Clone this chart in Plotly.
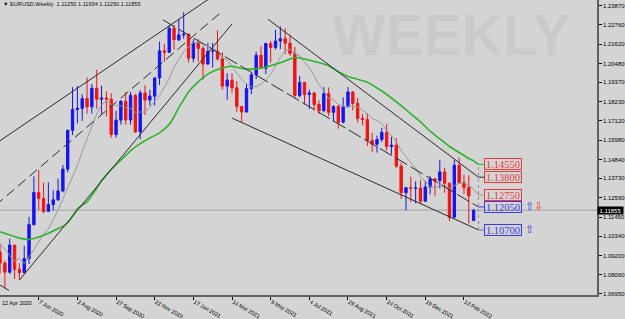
import plotly.graph_objects as go
import pandas as pd

# ---------------- data ----------------
week_start = "2020-04-12"
n_weeks = 99
dates = pd.date_range(week_start, periods=n_weeks, freq="7D")

opens = [1.0940,1.0875,1.0822,1.0981,1.0839,1.0819,1.0902,1.1101,1.1290,1.1255,
         1.1179,1.1219,1.1247,1.1299,1.1427,1.1655,1.1778,1.1784,1.1842,1.1793,
         1.1902,1.1838,1.1845,1.1838,1.1631,1.1715,1.1826,1.1716,1.1860,1.1646,
         1.1875,1.1833,1.1856,1.1963,1.2122,1.2114,1.2255,1.2187,1.2216,1.2220,
         1.2079,1.2169,1.2136,1.2045,1.2119,1.2120,1.2075,1.1915,1.1950,1.1905,
         1.1795,1.1763,1.1900,1.1982,1.2096,1.2020,1.2165,1.2142,1.2180,1.2193,
         1.2167,1.2107,1.1860,1.1936,1.1866,1.1875,1.1807,1.1771,1.1870,1.1761,
         1.1795,1.1703,1.1793,1.1880,1.1813,1.1725,1.1719,1.1596,1.1574,1.1601,
         1.1643,1.1560,1.1568,1.1445,1.1289,1.1318,1.1315,1.1316,1.1239,1.1322,
         1.1370,1.1360,1.1411,1.1344,1.1145,1.1450,1.1349,1.1320,1.1125]
highs = [1.0990,1.0890,1.1019,1.0982,1.0875,1.0976,1.1147,1.1384,1.1422,1.1348,
         1.1349,1.1302,1.1371,1.1452,1.1659,1.1909,1.1916,1.1867,1.1966,1.1927,
         1.2011,1.1917,1.1883,1.1873,1.1771,1.1831,1.1880,1.1880,1.1870,1.1891,
         1.1920,1.1893,1.1965,1.2177,1.2163,1.2273,1.2272,1.2310,1.2349,1.2223,
         1.2190,1.2189,1.2150,1.2169,1.2169,1.2243,1.2114,1.1990,1.1990,1.1945,
         1.1797,1.1927,1.1994,1.2117,1.2150,1.2170,1.2181,1.2245,1.2266,1.2254,
         1.2218,1.2145,1.1975,1.1940,1.1895,1.1880,1.1831,1.1909,1.1908,1.1803,
         1.1805,1.1849,1.1909,1.1886,1.1845,1.1752,1.1755,1.1640,1.1624,1.1669,
         1.1692,1.1617,1.1609,1.1464,1.1320,1.1383,1.1355,1.1362,1.1360,1.1386,
         1.1376,1.1482,1.1436,1.1348,1.1483,1.1495,1.1395,1.1391,1.11934]
lows = [1.0812,1.0727,1.0812,1.0782,1.0775,1.0818,1.0870,1.1096,1.1186,1.1168,
        1.1179,1.1184,1.1240,1.1291,1.1409,1.1627,1.1696,1.1711,1.1753,1.1753,
        1.1781,1.1752,1.1737,1.1612,1.1613,1.1689,1.1688,1.1689,1.1640,1.1603,
        1.1745,1.1800,1.1800,1.1922,1.2058,1.2110,1.2130,1.2180,1.2193,1.2053,
        1.2055,1.2057,1.1952,1.2040,1.2023,1.2065,1.1894,1.1835,1.1873,1.1762,
        1.1704,1.1760,1.1868,1.1956,1.2018,1.1986,1.2052,1.2130,1.2133,1.2104,
        1.2092,1.1847,1.1848,1.1807,1.1781,1.1772,1.1752,1.1762,1.1739,1.1705,
        1.1664,1.1696,1.1790,1.1772,1.1701,1.1683,1.1563,1.1529,1.1524,1.1586,
        1.1535,1.1513,1.1432,1.1251,1.1186,1.1234,1.1226,1.1222,1.1236,1.1279,
        1.1272,1.1313,1.1288,1.1121,1.1140,1.1340,1.1280,1.1106,1.11250]
closes = [1.0875,1.0822,1.0981,1.0839,1.0819,1.0902,1.1101,1.1290,1.1255,1.1179,
          1.1219,1.1247,1.1299,1.1427,1.1655,1.1778,1.1784,1.1842,1.1793,1.1902,
          1.1838,1.1845,1.1838,1.1631,1.1715,1.1826,1.1716,1.1860,1.1646,1.1875,
          1.1833,1.1856,1.1963,1.2122,1.2114,1.2255,1.2187,1.2216,1.2220,1.2079,
          1.2169,1.2136,1.2045,1.2119,1.2120,1.2075,1.1915,1.1950,1.1905,1.1795,
          1.1763,1.1900,1.1982,1.2096,1.2020,1.2165,1.2142,1.2180,1.2193,1.2167,
          1.2107,1.1860,1.1936,1.1866,1.1875,1.1807,1.1771,1.1870,1.1761,1.1795,
          1.1703,1.1793,1.1880,1.1813,1.1725,1.1719,1.1596,1.1574,1.1601,1.1643,
          1.1560,1.1568,1.1445,1.1289,1.1318,1.1315,1.1316,1.1239,1.1322,1.1370,
          1.1360,1.1411,1.1344,1.1145,1.1450,1.1349,1.1320,1.1270,1.11855]

# grey (fast) moving average, read per week
ma_fast = [1.0983,1.0958,1.0920,1.0887,1.0903,1.0873,1.0910,1.0954,1.1001,1.1046,
           1.1076,1.1127,1.1187,1.1252,1.1321,1.1382,1.1449,1.1531,1.1603,1.1685,
           1.1752,1.1805,1.1828,1.1809,1.1801,1.1799,1.1789,1.1784,1.1760,1.1763,
           1.1763,1.1791,1.1822,1.1859,1.1909,1.1958,1.2026,1.2068,1.2117,1.2145,
           1.2170,1.2172,1.2163,1.2146,1.2138,1.2120,1.2082,1.2066,1.2033,1.1991,
           1.1955,1.1928,1.1911,1.1913,1.1926,1.1953,1.1983,1.2031,1.2085,1.2118,
           1.2134,1.2104,1.2094,1.2056,1.2023,1.1976,1.1924,1.1887,1.1843,1.1835,
           1.1806,1.1797,1.1797,1.1798,1.1793,1.1774,1.1753,1.1725,1.1713,1.1694,
           1.1654,1.1623,1.1588,1.1535,1.1500,1.1467,1.1432,1.1381,1.1352,1.1327,
           1.1316,1.1331,1.1335,1.1313,1.1330,1.1344,1.1344,1.1331,1.1309]

# green (slow) moving average, read at sample weeks
ma_slow_dates = ["2020-04-12","2020-04-26","2020-05-10","2020-05-24","2020-06-07","2020-06-21",
                 "2020-07-05","2020-07-12","2020-07-19","2020-07-26","2020-08-02","2020-08-16",
                 "2020-08-30","2020-09-06","2020-09-20","2020-10-04","2020-10-18","2020-11-01",
                 "2020-11-15","2020-11-29","2020-12-13","2020-12-20","2020-12-27","2021-01-03",
                 "2021-01-10","2021-01-24","2021-02-07","2021-02-21","2021-03-14","2021-03-28",
                 "2021-04-18","2021-05-02","2021-05-23","2021-06-13","2021-06-27","2021-07-11",
                 "2021-08-01","2021-08-15","2021-08-29","2021-09-12","2021-09-26","2021-10-17",
                 "2021-10-31","2021-11-14","2021-11-28","2021-12-12","2021-12-26","2022-01-09",
                 "2022-01-23","2022-02-06","2022-02-20","2022-02-27","2022-03-06"]
ma_slow_vals = [1.1059,1.1040,1.1022,1.1014,1.1028,1.1050,
                1.1078,1.1090,1.1112,1.1150,1.1194,1.1236,
                1.1315,1.1360,1.1425,1.1480,1.1535,1.1577,
                1.1610,1.1640,1.1690,1.1735,1.1790,1.1835,
                1.1880,1.1940,1.1985,1.2012,1.2032,1.2018,
                1.2016,1.2027,1.2052,1.2083,1.2074,1.2060,
                1.2035,1.2000,1.1972,1.1955,1.1938,1.1886,
                1.1845,1.1800,1.1752,1.1705,1.1650,1.1605,
                1.1560,1.1525,1.1490,1.1476,1.1455]

# hand-drawn trend lines: start/end dates and prices
line_a_x = ["2020-04-12", "2021-02-14"]; line_a_y = [1.1594, 1.2442]
line_b_x = ["2020-05-10", "2021-03-14"]; line_b_y = [1.0775, 1.2280]
line_c_x = ["2020-04-05", "2021-02-28"]; line_c_y = [1.1213, 1.2355]   # dashed
line_d_x = ["2020-12-04", "2022-03-06"]; line_d_y = [1.2304, 1.1205]   # dashed
line_e_x = ["2021-05-05", "2022-03-06"]; line_e_y = [1.2308, 1.1380]
line_f_x = ["2021-03-14", "2022-03-06"]; line_f_y = [1.1727, 1.1070]
line_g_x = ["2020-04-05", "2020-04-25"]; line_g_y = [1.0763, 1.0714]

level_date = "2022-03-06"
level_prices = [1.14550, 1.13800, 1.12750, 1.12050, 1.10700]
level_colors = ["#ee3a3a", "#ee3a3a", "#ee3a3a", "#3a3aee", "#3a3aee"]
level_tails = ["#2db42d", "#303030", "#9a9a9a", "#3a3aee", "#6a6aee"]

date_ticks = ["2020-04-12", "2020-06-07", "2020-08-02", "2020-09-27", "2020-11-22",
              "2021-01-17", "2021-03-14", "2021-05-09", "2021-07-04", "2021-08-29",
              "2021-10-24", "2021-12-19", "2022-02-13"]
first_date_label = "12 Apr 2020"
price_ticks = [1.23870, 1.22760, 1.21620, 1.20480, 1.19370, 1.18230, 1.17120, 1.15980,
               1.14840, 1.13730, 1.12590, 1.11450, 1.10340, 1.09200, 1.08060, 1.06950]
last_price = 1.11855
symbol_text = "EURUSD.Weekly"
current_ohlc = [1.11250, 1.11934, 1.11250, 1.11855]

# ---------------- style ----------------
BG = "#d4d4d4"
BULL = "#1414f0"
BEAR = "#f01414"
FONT = "Liberation Sans"

fig = go.Figure()

fig.add_trace(go.Candlestick(
    x=dates, open=opens, high=highs, low=lows, close=closes,
    increasing=dict(line=dict(color=BULL, width=1), fillcolor=BULL),
    decreasing=dict(line=dict(color=BEAR, width=1), fillcolor=BEAR),
    whiskerwidth=0, showlegend=False, hoverinfo="skip"))

fig.add_trace(go.Scatter(x=list(dates) + [pd.Timestamp(level_date)], y=ma_fast + [level_prices[2]],
                         mode="lines", line=dict(color="#9a9a9a", width=1),
                         showlegend=False, hoverinfo="skip"))
fig.add_trace(go.Scatter(x=ma_slow_dates, y=ma_slow_vals, mode="lines",
                         line=dict(color="#2db42d", width=1.6, shape="spline", smoothing=0.6),
                         showlegend=False, hoverinfo="skip"))

for lx, ly, dash in [(line_a_x, line_a_y, "solid"), (line_b_x, line_b_y, "solid"),
                     (line_c_x, line_c_y, "10px,5px"), (line_d_x, line_d_y, "14px,4px"),
                     (line_e_x, line_e_y, "solid"), (line_f_x, line_f_y, "solid"),
                     (line_g_x, line_g_y, "solid")]:
    fig.add_trace(go.Scatter(x=lx, y=ly, mode="lines",
                             line=dict(color="#2a2a2a", width=1, dash=dash),
                             showlegend=False, hoverinfo="skip"))

# vertical dotted marker at the label anchor
fig.add_trace(go.Scatter(x=[level_date, level_date], y=[min(level_prices), max(level_prices)],
                         mode="lines", line=dict(color="#8a8a8a", width=1, dash="dot"),
                         showlegend=False, hoverinfo="skip"))

# current price line
fig.add_shape(type="line", xref="paper", x0=0, x1=1, yref="y", y0=last_price, y1=last_price,
              line=dict(color="#b2b2b2", width=1.5), layer="below")

# level labels
for p, c, t in zip(level_prices, level_colors, level_tails):
    fig.add_annotation(x=level_date, y=p, text=f"{p:.5f}", showarrow=True, arrowhead=0,
                       arrowwidth=1, arrowcolor=t, ax=25, ay=0, standoff=0,
                       font=dict(family="Liberation Serif", size=10.5, color=c),
                       bordercolor=c, borderwidth=1, borderpad=0, width=36, height=10,
                       valign="middle")
for p, ch, c, sh in [(level_prices[3], "⇧", "#3a3aee", 45), (level_prices[3], "⇩", "#ee3a3a", 54),
                     (level_prices[4], "⇧", "#3a3aee", 45)]:
    fig.add_annotation(x=level_date, y=p, text=ch, showarrow=False, xanchor="left", xshift=sh,
                       font=dict(family="DejaVu Sans", size=11, color=c))

# first date label sits on the very left edge of the time scale
fig.add_annotation(x=week_start, xref="x", yref="paper", y=0, xanchor="left", yanchor="top",
                   yshift=-3, xshift=0, showarrow=False, text=first_date_label,
                   font=dict(family=FONT, size=5.5, color="#000000"))

# header text
fig.add_annotation(xref="paper", yref="paper", x=0, y=1, xanchor="left", yanchor="top",
                   xshift=1, yshift=1, showarrow=False,
                   text="▼ " + symbol_text + "  " + " ".join(f"{v:.5f}" for v in current_ohlc),
                   font=dict(family=FONT, size=5.6, color="#111111"))

# watermark
fig.add_annotation(xref="paper", yref="paper", x=0.756, y=0.88, xanchor="center", yanchor="middle",
                   showarrow=False, text="<b>WEEKLY</b>",
                   font=dict(family=FONT, size=57, color="#cacaca"))

# current price tag on axis
fig.add_annotation(xref="paper", yref="y", x=1, y=last_price, xanchor="left", showarrow=False,
                   text=f"{last_price:.5f}", bgcolor="#000000", borderpad=0, height=7, width=25,
                   font=dict(family=FONT, size=6, color="#ffffff"))

fig.update_layout(
    width=625, height=319, margin=dict(l=0, r=27, t=0, b=11),
    paper_bgcolor=BG, plot_bgcolor=BG, showlegend=False,
    xaxis=dict(type="date", range=["2020-04-11 22:00", "2022-08-24 17:00"],
               rangeslider=dict(visible=False), showgrid=False, zeroline=False,
               tickmode="array", tickvals=date_ticks[1:], tickformat="%-d %b %Y",
               ticks="outside", ticklen=3, tickcolor="#000000", tickwidth=1,
               ticklabelposition="outside right",
               showline=True, linecolor="#606060", linewidth=1.5,
               tickfont=dict(family=FONT, size=5.5, color="#000000")),
    yaxis=dict(side="right", range=[1.06877, 1.24208], tickvals=price_ticks,
               ticktext=[f"{v:.5f}" for v in price_ticks], ticks="outside", ticklen=3,
               tickcolor="#000000", showline=True, linecolor="#606060", linewidth=1.5,
               showgrid=False, zeroline=False,
               tickfont=dict(family=FONT, size=6, color="#000000")),
)

fig.write_html("out.html")
